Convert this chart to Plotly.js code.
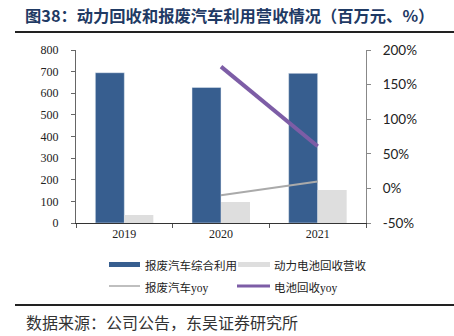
<!DOCTYPE html>
<html><head><meta charset="utf-8">
<script src="https://cdn.plot.ly/plotly-3.0.1.min.js"></script>
<style>html,body{margin:0;padding:0;background:#fff;}#c{width:454px;height:336px;}</style>
</head><body><div id="c"></div>
<script>
const years = ['2019', '2020', '2021'];
const scrapCarRevenue = [695, 627, 692];
const batteryRevenue = [37, 97, 153];
const yoyYears = ['2020', '2021'];
const scrapCarYoy = [-10, 10];
const batteryYoy = [176, 61];
const leftTicks = [0, 100, 200, 300, 400, 500, 600, 700, 800];
const rightTicks = [-50, 0, 50, 100, 150, 200];
const rightTickText = ['-50%', '0%', '50%', '100%', '150%', '200%'];
const seriesNames = ['报废汽车综合利用', '动力电池回收营收', '报废汽车yoy', '电池回收yoy'];

const W = 454, H = 336;
const L = 76, R = 366, T = 50, B = 223;
const px = x => (x - L) / (R - L);
const py = y => (B - y) / (B - T);

const blue = '#375E8F', grey = '#DEDEDE', lgrey = '#AAAAAA', purple = '#7D5DA6';

const traces = [
  {type: 'bar', x: years, y: scrapCarRevenue, name: seriesNames[0], marker: {color: blue, line: {color: '#e8eef5', width: 0.5}}},
  {type: 'bar', x: years, y: batteryRevenue, name: seriesNames[1], marker: {color: grey}},
  {type: 'scatter', mode: 'lines', x: yoyYears, y: scrapCarYoy, name: seriesNames[2], yaxis: 'y2', line: {color: lgrey, width: 2}},
  {type: 'scatter', mode: 'lines', x: yoyYears, y: batteryYoy, name: seriesNames[3], yaxis: 'y2', line: {color: purple, width: 4}}
];

const legFont = {family: '"Noto Sans CJK SC", sans-serif', size: 11.5, color: '#222'};
const shapes = [
  {type: 'line', xref: 'paper', yref: 'paper', x0: px(15), x1: px(454), y0: py(32), y1: py(32), line: {color: '#222', width: 2}},
  {type: 'line', xref: 'paper', yref: 'paper', x0: px(15), x1: px(454), y0: py(305), y1: py(305), line: {color: '#222', width: 2}},
  {type: 'rect', xref: 'paper', yref: 'paper', x0: px(109), x1: px(140), y0: py(262), y1: py(267), fillcolor: blue, line: {width: 0}},
  {type: 'rect', xref: 'paper', yref: 'paper', x0: px(238), x1: px(270), y0: py(262), y1: py(267), fillcolor: grey, line: {width: 0}},
  {type: 'line', xref: 'paper', yref: 'paper', x0: px(109), x1: px(140), y0: py(286), y1: py(286), line: {color: lgrey, width: 1.5}},
  {type: 'line', xref: 'paper', yref: 'paper', x0: px(237), x1: px(270), y0: py(286), y1: py(286), line: {color: purple, width: 3}}
];
const yoySpan = '<span style="font-family:\'Liberation Serif\',serif">yoy</span>';
const annotations = [
  {xref: 'paper', yref: 'paper', x: px(143), y: py(264.5), xanchor: 'left', yanchor: 'middle', showarrow: false, text: seriesNames[0], font: legFont},
  {xref: 'paper', yref: 'paper', x: px(272), y: py(264.5), xanchor: 'left', yanchor: 'middle', showarrow: false, text: seriesNames[1], font: legFont},
  {xref: 'paper', yref: 'paper', x: px(143), y: py(286.5), xanchor: 'left', yanchor: 'middle', showarrow: false, text: '报废汽车' + yoySpan, font: legFont},
  {xref: 'paper', yref: 'paper', x: px(272), y: py(286.5), xanchor: 'left', yanchor: 'middle', showarrow: false, text: '电池回收' + yoySpan, font: legFont},
  {xref: 'paper', yref: 'paper', x: px(24), y: py(322), xanchor: 'left', yanchor: 'middle', showarrow: false,
   text: '数据来源：公司公告，东吴证券研究所', font: {family: '"Noto Sans CJK SC", serif', size: 16, color: '#333'}}
];

const layout = {
  width: W, height: H,
  margin: {l: L, r: W - R, t: T, b: H - B, pad: 0},
  paper_bgcolor: '#fff', plot_bgcolor: '#fff',
  showlegend: false,
  barmode: 'group', bargap: 0.4, bargroupgap: 0,
  title: {text: '<b>图38：动力回收和报废汽车利用营收情况（百万元、%）</b>', x: 25 / W, xanchor: 'left', xref: 'container', y: 1 - 16 / H, yanchor: 'middle', yref: 'container',
          font: {family: '"Noto Sans CJK SC", serif', size: 16.3, color: '#1F3A64'}},
  xaxis: {type: 'category', showline: true, linecolor: '#333', linewidth: 1, ticks: 'outside', tickson: 'boundaries', ticklen: 4, tickcolor: '#555',
          showgrid: false, zeroline: false, tickfont: {family: '"Liberation Serif", "Times New Roman", serif', size: 12, color: '#222'}},
  yaxis: {range: [0, 800], tickvals: leftTicks, showline: true, linecolor: '#666', linewidth: 1, ticks: 'outside', ticklen: 4, tickcolor: '#666',
          showgrid: false, zeroline: false, ticklabelstandoff: 10, tickfont: {family: '"Liberation Serif", "Times New Roman", serif', size: 12, color: '#222'}},
  yaxis2: {overlaying: 'y', side: 'right', range: [-50, 200], tickvals: rightTicks, ticktext: rightTickText, showline: true, linecolor: '#888', linewidth: 1,
           ticks: 'outside', ticklen: 4, tickcolor: '#888', showgrid: false, zeroline: false, ticklabelstandoff: 9,
           tickfont: {family: 'Lato, sans-serif', size: 13.5, color: '#222'}},
  shapes: shapes, annotations: annotations
};
Plotly.newPlot('c', traces, layout, {staticPlot: true, displayModeBar: false});
</script></body></html>
